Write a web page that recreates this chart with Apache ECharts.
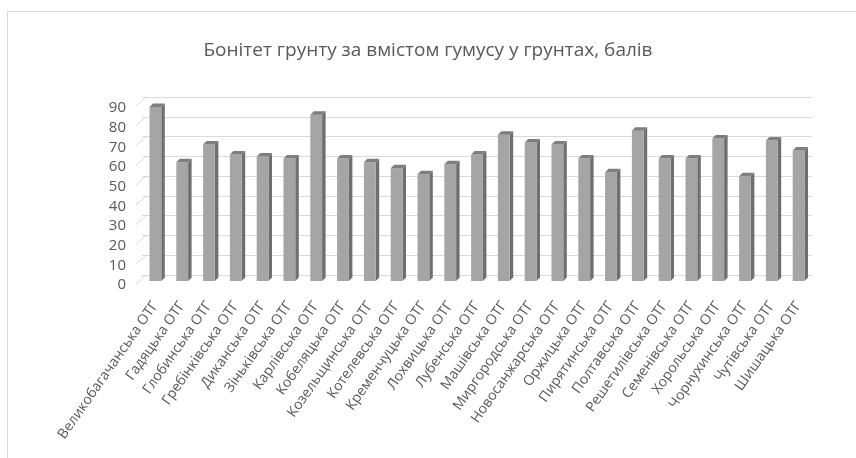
<!DOCTYPE html>
<html>
<head>
<meta charset="utf-8">
<script src="https://cdn.jsdelivr.net/npm/echarts@6/dist/echarts.min.js"></script>
<style>
html,body{margin:0;padding:0;background:#fff;}
#chart{width:856px;height:458px;}
#frame{position:absolute;left:7px;top:11px;width:860px;height:460px;border:1px solid #d9d9d9;box-sizing:border-box;pointer-events:none;}
</style>
</head>
<body>
<div id="chart"></div>
<div id="frame"></div>
<script>
const titleText = 'Бонітет грунту за вмістом гумусу у грунтах, балів';
const categories = ['Великобагачанська ОТГ','Гадяцька ОТГ','Глобинська ОТГ','Гребінківська ОТГ','Диканська ОТГ','Зіньківська ОТГ','Карлівська ОТГ','Кобеляцька ОТГ','Козельщинська ОТГ','Котелевська ОТГ','Кременчуцька ОТГ','Лохвицька ОТГ','Лубенська ОТГ','Машівська ОТГ','Миргородська ОТГ','Новосанжарська ОТГ','Оржицька ОТГ','Пирятинська ОТГ','Полтавська ОТГ','Решетилівська ОТГ','Семенівська ОТГ','Хорольська ОТГ','Чорнухинська ОТГ','Чутівська ОТГ','Шишацька ОТГ'];
const values = [88,60,69,64,63,62,84,62,60,57,54,59,64,74,70,69,62,55,76,62,62,72,53,71,66];
const yTicks = [0,10,20,30,40,50,60,70,80,90];

const FONT = "'Open Sans',sans-serif";
const chart = echarts.init(document.getElementById('chart'), null, {renderer:'canvas'});

function renderBar(params, api){
  const i = api.value(0), v = api.value(1);
  const base = api.coord([i,0]);
  const top = api.coord([i,v]);
  const band = api.size([1,0])[0];
  const w = band*0.44, d = 3.5, drop = 6;
  const xl = base[0]-w/2, xr = base[0]+w/2;
  const yb = base[1]+drop, yt = top[1]+drop;
  return {type:'group', children:[
    {type:'polygon', shape:{points:[[xr,yb],[xr+d,yb-d],[xr+d,yt-d],[xr,yt]]}, style:{fill:'#6f6f6f'}},
    {type:'rect', shape:{x:xl,y:yt,width:w,height:yb-yt}, style:{fill:'#a5a5a5'}},
    {type:'polygon', shape:{points:[[xl,yt],[xr,yt],[xr+d,yt-d],[xl+d,yt-d]]}, style:{fill:'#7e7e7e'}}
  ]};
}
function renderSide(params, api){
  const p = api.coord([0, api.value(1)]);
  const band = api.size([1,0])[0];
  const x0 = p[0]-band/2;
  return {type:'line', shape:{x1:x0+4,y1:p[1],x2:x0-6,y2:p[1]+9}, style:{stroke:'#d9d9d9',lineWidth:1}};
}

chart.setOption({
  animation:false,
  backgroundColor:'#ffffff',
  title:{text:titleText,left:'center',top:36,textStyle:{fontFamily:FONT,fontSize:19,fontWeight:'normal',color:'#595959'}},
  grid:[
    {left:142,right:44,top:97,bottom:183},
    {left:142,right:44,top:108,bottom:173}
  ],
  xAxis:[
    {type:'category',gridIndex:0,data:categories,boundaryGap:true,
     axisLine:{show:true,lineStyle:{color:'#d9d9d9'}},axisTick:{show:false},
     axisLabel:{interval:0,rotate:55,margin:28,color:'#595959',fontFamily:FONT,fontSize:14}},
    {type:'category',gridIndex:1,data:categories,show:false}
  ],
  yAxis:[
    {type:'value',gridIndex:0,min:0,max:90,interval:10,
     axisLabel:{show:false},axisLine:{show:false},axisTick:{show:false},
     splitLine:{show:true,lineStyle:{color:'#d9d9d9',width:1}}},
    {type:'value',gridIndex:1,min:0,max:90,interval:10,
     axisLabel:{show:true,margin:16,color:'#595959',fontFamily:FONT,fontSize:15,
       formatter:function(v){return yTicks.indexOf(v)>=0?String(v):'';}},
     axisLine:{show:false},axisTick:{show:false},splitLine:{show:false}}
  ],
  series:[
    {type:'custom',xAxisIndex:0,yAxisIndex:0,renderItem:renderSide,silent:true,
     data:yTicks.map(function(t){return [0,t];}),z:1},
    {type:'custom',xAxisIndex:0,yAxisIndex:0,renderItem:renderBar,
     data:values.map(function(v,i){return [i,v];}),z:3}
  ]
});
</script>
</body>
</html>
